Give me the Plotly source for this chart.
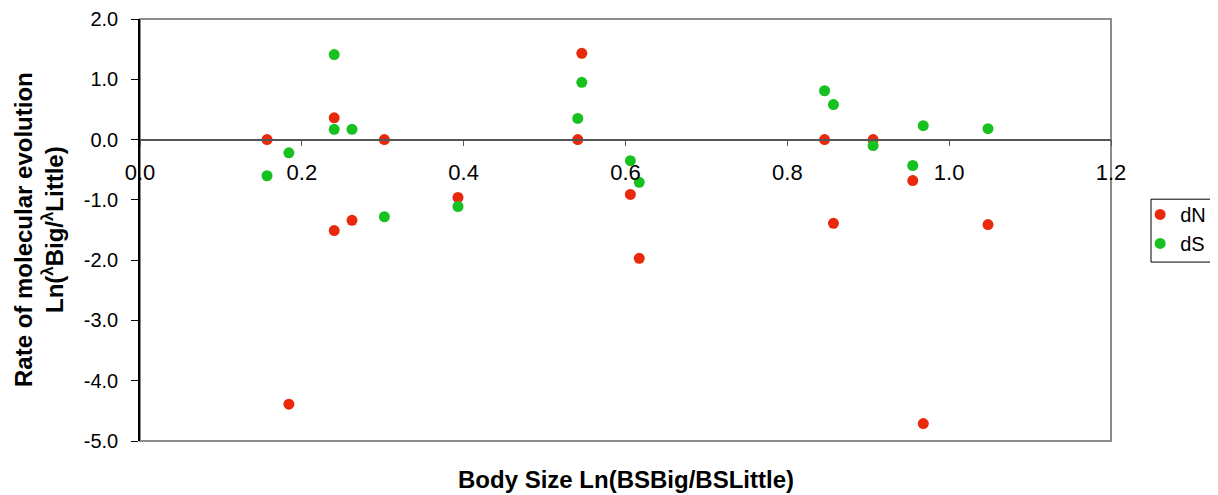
import plotly.graph_objects as go

# Body size ratio (x) with paired dN / dS rates
body_size = [0.157, 0.184, 0.240, 0.240, 0.262, 0.302, 0.393, 0.541, 0.546,
             0.606, 0.617, 0.846, 0.857, 0.906, 0.955, 0.968, 1.048]
dN = [0.00, -4.39, 0.36, -1.51, -1.34, 0.00, -0.96, 0.00, 1.43,
      -0.91, -1.97, 0.00, -1.39, 0.00, -0.68, -4.71, -1.41]
dS = [-0.60, -0.22, 1.41, 0.17, 0.17, -1.28, -1.11, 0.35, 0.95,
      -0.35, -0.71, 0.81, 0.58, -0.10, -0.43, 0.23, 0.18]

x_ticks = [0.0, 0.2, 0.4, 0.6, 0.8, 1.0, 1.2]
y_ticks = [2.0, 1.0, 0.0, -1.0, -2.0, -3.0, -4.0, -5.0]

COLORS = {'dN': '#e8290b', 'dS': '#17c11f'}
FONT = "Liberation Sans, Arial, sans-serif"

fig = go.Figure()
fig.add_trace(go.Scatter(x=body_size, y=dN, mode='markers', name='dN',
                         marker=dict(color=COLORS['dN'], size=11)))
fig.add_trace(go.Scatter(x=body_size, y=dS, mode='markers', name='dS',
                         marker=dict(color=COLORS['dS'], size=11)))

# plot-area frame (grey), drawn under the axes
fig.add_shape(type='rect', xref='x domain', yref='y domain', x0=0, x1=1, y0=0, y1=1,
              line=dict(color='#8c8c8c', width=2), layer='below')
# legend box, drawn separately so the entries can sit closer to its left edge
fig.add_shape(type='rect', xref='paper', yref='paper', x0=1.0412, x1=1.25, y0=0.424, y1=0.573,
              line=dict(color='black', width=1))

# the page body adds an 8px offset, so the figure is 8px smaller than the window
fig.update_layout(
    width=1210, height=487,
    margin=dict(l=132, r=107, t=11, b=54, autoexpand=False),
    paper_bgcolor='white', plot_bgcolor='white',
    font=dict(family=FONT, size=20, color='black'),
    showlegend=True,
    legend=dict(x=1.03, y=0.583, xanchor='left', yanchor='top',
                bgcolor='rgba(0,0,0,0)', borderwidth=0, font=dict(size=20),
                itemwidth=30, tracegroupgap=0),
    xaxis=dict(range=[0, 1.2], tickvals=x_ticks, ticktext=[f'{v:.1f}' for v in x_ticks],
               anchor='free', position=5 / 7, showline=True, linecolor='#555555', linewidth=1.5,
               ticks='outside', ticklen=6, tickcolor='#555555', ticklabelstandoff=7,
               tickfont=dict(size=22), showgrid=False, zeroline=False),
    yaxis=dict(range=[-5, 2], tickvals=y_ticks, ticktext=[f'{v:.1f}' for v in y_ticks],
               showline=True, linecolor='black', linewidth=1.5, ticklabelstandoff=9,
               ticks='outside', ticklen=7, tickcolor='black', showgrid=False, zeroline=False),
)

fig.add_annotation(text='<b>Body Size Ln(BSBig/BSLittle)</b>', xref='paper', yref='paper',
                   x=0.5, y=-0.092, xanchor='center', yanchor='middle', showarrow=False,
                   font=dict(size=24))
fig.add_annotation(text='<b>Rate of molecular evolution<br>Ln(<sup>λ</sup>Big/<sup>λ</sup>Little)</b>',
                   xref='paper', yref='paper', x=-0.104, y=0.5, xanchor='center', yanchor='middle',
                   textangle=-90, showarrow=False, font=dict(size=24))

fig.write_html("out.html")
